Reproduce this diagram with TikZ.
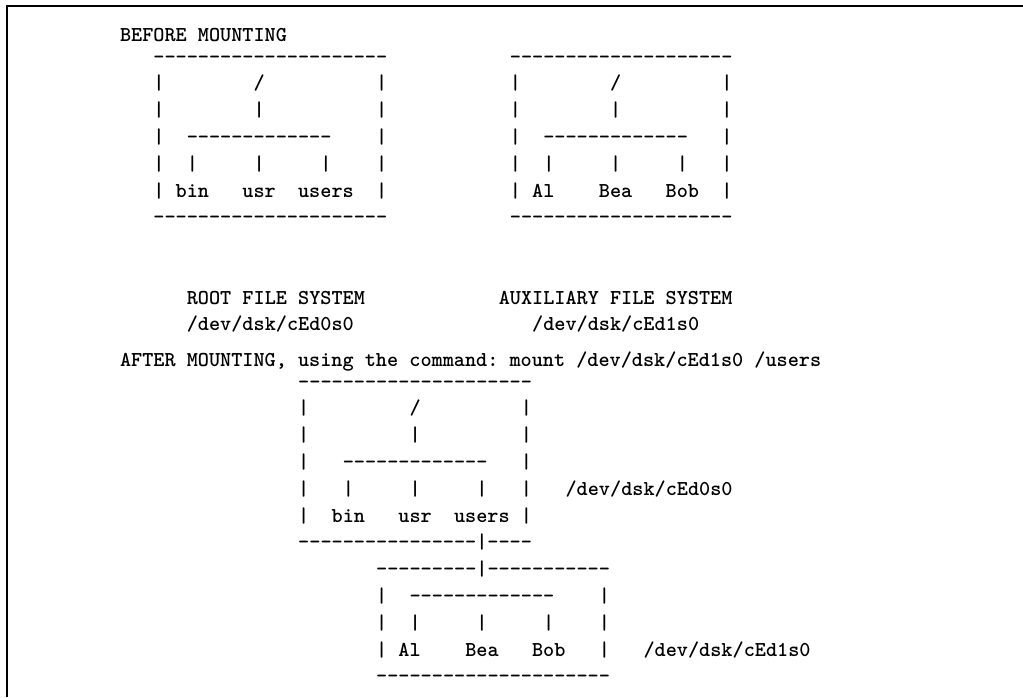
\documentclass[tikz,border=0pt]{standalone}
\usepackage{fontspec}
\newfontfamily\mybtt{lmmonolt10-bold.otf}
\ExplSyntaxOn
\cs_new:Npn \mydashes #1 { \prg_replicate:nn {#1} { -\kern0pt } }
\ExplSyntaxOff
\tikzset{
  tt/.style={anchor=base west, inner sep=0pt, outer sep=0pt,
    font=\fontsize{21.2}{26}\selectfont\mybtt\frenchspacing},
  frame/.style={line width=2.4pt}
}
\begin{document}
\begin{tikzpicture}[x=1pt,y=-1pt]
\useasboundingbox (0,0) rectangle (1023,697);
\draw[frame] (7,697) -- (7,6) -- (1023,6);
% title
\node[tt] (title) at (120,41) {BEFORE MOUNTING};
% box 1 (col 3)
\node[tt] (a0) at (153.42,63)    {\mydashes{21}};
\node[tt] (a1) at (153.42,89.8)  {|~~~~~~~~/~~~~~~~~~~|};
\node[tt] (a2) at (153.42,116.6) {|~~~~~~~~|~~~~~~~~~~|};
\node[tt] (a3) at (153.42,143.4) {|~~\mydashes{13}~~~~|};
\node[tt] (a4) at (153.42,170.2) {|~~|~~~~~|~~~~~|~~~~|};
\node[tt] (a5) at (153.42,197)   {|~bin~~~usr~~users~~|};
\node[tt] (a6) at (153.42,223.8) {\mydashes{21}};
% box 2 (col 35)
\node[tt] (b0) at (509.9,63)    {\mydashes{20}};
\node[tt] (b1) at (509.9,89.8)  {|~~~~~~~~/~~~~~~~~~|};
\node[tt] (b2) at (509.9,116.6) {|~~~~~~~~|~~~~~~~~~|};
\node[tt] (b3) at (509.9,143.4) {|~~\mydashes{13}~~~|};
\node[tt] (b4) at (509.9,170.2) {|~~|~~~~~|~~~~~|~~~|};
\node[tt] (b5) at (509.9,197)   {|~Al~~~~Bea~~~Bob~~|};
\node[tt] (b6) at (509.9,223.8) {\mydashes{20}};
% captions
\node[tt] (rootname) at (186.84,304) {ROOT FILE SYSTEM};
\node[tt] (rootdev)  at (186.84,330) {/dev/dsk/cEd0s0};
\node[tt] (auxname)  at (498.76,304) {AUXILIARY FILE SYSTEM};
\node[tt] (auxdev)   at (532.18,330) {/dev/dsk/cEd1s0};
% after
\node[tt] (after) at (120,366) {AFTER MOUNTING, using the command: mount /dev/dsk/cEd1s0 /users};
% box 3 (col 16)
\node[tt] (c0) at (298.24,388)   {\mydashes{21}};
\node[tt] (c1) at (298.24,414.8) {|~~~~~~~~~/~~~~~~~~~|};
\node[tt] (c2) at (298.24,441.6) {|~~~~~~~~~|~~~~~~~~~|};
\node[tt] (c3) at (298.24,468.4) {|~~~\mydashes{13}~~~|};
\node[tt] (c4) at (298.24,495.2) {|~~~|~~~~~|~~~~~|~~~|};
\node[tt] (c5) at (298.24,522)   {|~~bin~~~usr~~users~|};
\node[tt] (c6) at (298.24,548.8) {\mydashes{16}|\mydashes{4}};
\node[tt] (cdev) at (565.6,495.2) {/dev/dsk/cEd0s0};
% box 4 (col 23)
\node[tt] (d0) at (376.22,575.6) {\mydashes{9}|\mydashes{11}};
\node[tt] (d1) at (376.22,602.4) {|~~\mydashes{13}~~~~|};
\node[tt] (d2) at (376.22,629.2) {|~~|~~~~~|~~~~~|~~~~|};
\node[tt] (d3) at (376.22,656)   {|~Al~~~~Bea~~~Bob~~~|};
\node[tt] (d4) at (376.22,682.8) {\mydashes{21}};
\node[tt] (ddev) at (643.58,656) {/dev/dsk/cEd1s0};
\end{tikzpicture}
\end{document}
